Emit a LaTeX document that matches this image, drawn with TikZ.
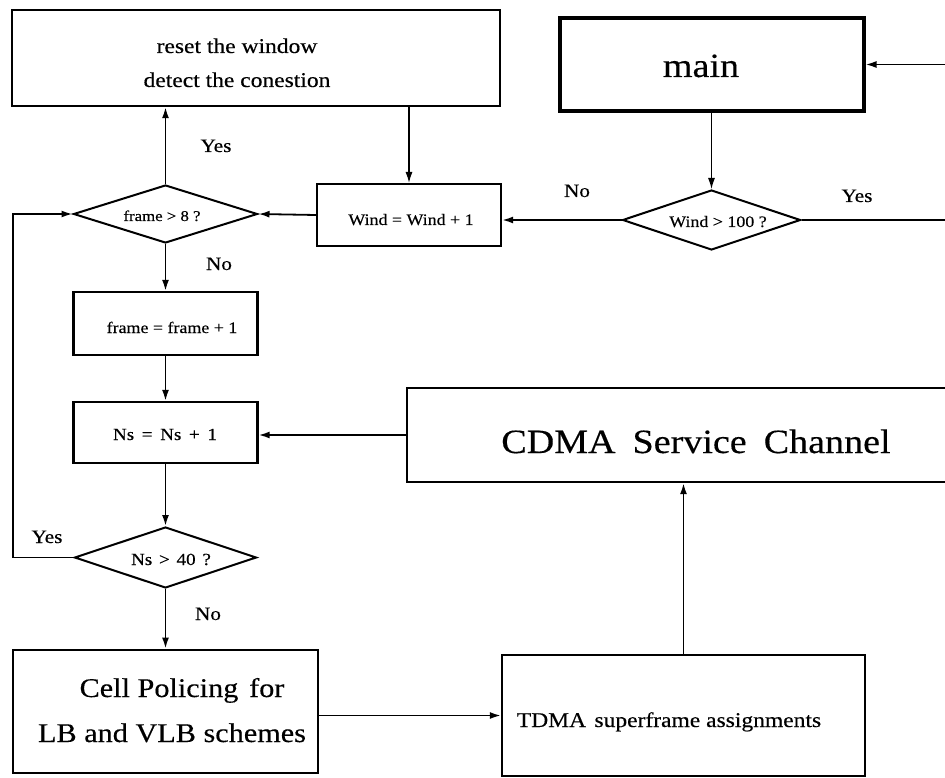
\documentclass[tikz,border=0pt]{standalone}
\usepackage{fontspec}
\setmainfont[FakeStretch=1.12,FakeBold=0.35]{Liberation Serif}
\usetikzlibrary{arrows.meta,shapes.geometric}
\newcommand\myfs[1]{\fontsize{#1}{#1}\selectfont}
\begin{document}
\begin{tikzpicture}[x=1pt,y=-1pt,
  box/.style={draw,line width=2.2pt,inner sep=0pt},
  dia/.style={draw,diamond,line width=2pt,inner sep=0pt},
  conn/.style={line width=1.8pt,-{Latex[length=11pt,width=7pt]}},
  thinconn/.style={line width=1.2pt,-{Latex[length=11pt,width=7pt]}},
  lbl/.style={anchor=base,inner sep=0pt},
  yn/.style={lbl,font=\myfs{19}}]
\useasboundingbox (0,0) rectangle (945,778);
\fill[white] (0,0) rectangle (945,778);

% boxes
\node[box,minimum width=488pt,minimum height=96pt] (reset) at (256,58) {};
\node[box,line width=4pt,minimum width=304pt,minimum height=93pt] (main) at (711.5,64.5) {};
\node[box,minimum width=184pt,minimum height=62pt] (wbox) at (409,215) {};
\node[dia,minimum width=178pt,minimum height=60pt] (wdia) at (711.5,220) {};
\node[dia,minimum width=184pt,minimum height=58pt] (fdia) at (165.5,214) {};
\node[box,minimum width=184pt,minimum height=63pt] (fbox) at (165.5,323.5) {};
\node[box,minimum width=184pt,minimum height=61pt] (nbox) at (165.5,432.5) {};
\node[dia,minimum width=182pt,minimum height=61pt] (ndia) at (165.5,557.5) {};
\node[box,line width=2.8pt,minimum width=305pt,minimum height=123pt] (cell) at (165.5,711.5) {};
\node[box,minimum width=363pt,minimum height=121pt] (tdma) at (683.5,715.5) {};
\node[box,minimum width=593pt,minimum height=94pt] (cdma) at (703.5,435) {};

% texts
\node[lbl,font=\myfs{21}] (t1) at (237,53) {reset the window};
\node[lbl,font=\myfs{21}] (t2) at (237,87) {detect the conestion};
\node[lbl,font=\myfs{34}] (tmain) at (701,77) {main};
\node[lbl,font=\myfs{16}] (twb) at (411,225) {Wind = Wind + 1};
\node[lbl,font=\myfs{16}] (twd) at (718,227) {Wind > 100 ?};
\node[lbl,font=\myfs{15}] (tfd) at (162,221) {frame > 8 ?};
\node[lbl,font=\myfs{16}] (tfb) at (172,333) {frame = frame + 1};
\node[lbl,font=\myfs{17}] (tnb) at (165,440) {Ns\hspace{0.45em}=\hspace{0.45em}Ns\hspace{0.45em}+\hspace{0.45em}1};
\node[lbl,font=\myfs{17}] (tnd) at (171,565) {Ns\hspace{0.4em}>\hspace{0.4em}40\hspace{0.4em}?};
\node[lbl,font=\myfs{34}] (tcdma) at (696,453) {CDMA\hspace{0.5em}Service\hspace{0.5em}Channel};
\node[lbl,font=\myfs{27}] (tc1) at (182,697) {Cell Policing\hspace{0.4em}for};
\node[lbl,font=\myfs{27}] (tc2) at (172,742) {LB and VLB schemes};
\node[lbl,font=\myfs{21}] (ttd) at (669,727) {TDMA\hspace{0.4em}superframe assignments};

\node[yn] (y1) at (216,152) {Yes};
\node[yn] (n1) at (219,270) {No};
\node[yn] (n2) at (577,197) {No};
\node[yn] (y2) at (857,202) {Yes};
\node[yn] (y3) at (47,543) {Yes};
\node[yn] (n3) at (208,620) {No};

% connectors
\coordinate (rt) at (960,0);
\coordinate (lx) at (13,0);
\draw[thinconn] (main.south) -- (wdia.north);
\draw[conn] (wdia.east) -- (wdia.east -| rt) |- (main.east);
\draw[conn] (wdia.west) -- (wdia.west -| wbox.east);
\draw[thinconn] (reset.south -| wbox.north) -- (wbox.north);
\draw[conn] (wbox.west) -- (fdia.east);
\draw[conn] (fdia.north) -- (fdia.north |- reset.south);
\draw[conn] (fdia.south) -- (fbox.north);
\draw[conn] (fbox.south) -- (nbox.north);
\draw[conn] (cdma.west) -- (cdma.west -| nbox.east);
\draw[conn] (nbox.south) -- (ndia.north);
\draw[conn] (ndia.west) -- (ndia.west -| lx) |- (fdia.west);
\draw[conn] (ndia.south) -- (cell.north);
\draw[conn] (cell.east |- tdma.west) -- (tdma.west);
\draw[conn] (tdma.north) -- (tdma.north |- cdma.south);
\end{tikzpicture}
\end{document}
